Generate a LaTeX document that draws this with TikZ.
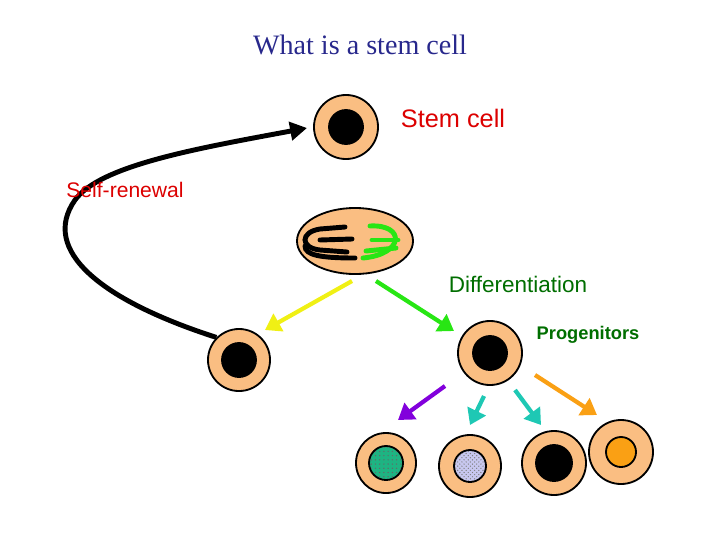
\documentclass[tikz,border=0pt]{standalone}
\usepackage{fontspec}
\setmainfont{Liberation Serif}
\newfontfamily\labelfont{Liberation Sans}
\usetikzlibrary{patterns,arrows.meta,shapes.geometric}
\definecolor{skin}{RGB}{250,190,130}
\definecolor{titleblue}{RGB}{40,40,140}
\definecolor{labelred}{RGB}{220,0,0}
\definecolor{labelgreen}{RGB}{0,110,0}
\definecolor{nucgreen}{RGB}{30,180,130}
\definecolor{nuclav}{RGB}{200,200,240}
\definecolor{nucorange}{RGB}{250,160,20}
\definecolor{armteal}{RGB}{30,200,180}
\definecolor{armpurple}{RGB}{130,0,220}
\definecolor{armorange}{RGB}{250,160,20}
\definecolor{armyellow}{RGB}{240,240,20}
\definecolor{armgreen}{RGB}{40,230,20}

\tikzset{
	cell/.style={circle, draw, line width=1.3pt, fill=skin},
	fat/.style={line width=3pt, -{Triangle[length=11pt,width=14pt]}},
	lbl/.style={font=\labelfont\fontsize{16}{18}\selectfont}
}

\begin{document}
\begin{tikzpicture}[x=0.025cm, y=-0.025cm]

	% ---- frame

	\useasboundingbox (0,0) rectangle (720,540);

	% ---- cells

	\node[cell, minimum size=1.6cm] (stem) at (346,127) {};
	\draw[line width=1.3pt, fill=black] (stem) circle (17);

	\node[draw, ellipse, line width=1.3pt, fill=skin, minimum width=2.9cm, minimum height=1.65cm] (div) at (355,241) {};

	\node[cell, minimum size=1.55cm] (left) at (239,360) {};
	\draw[line width=1.3pt, fill=black] (left) circle (17);

	\node[cell, minimum size=1.6cm] (prog) at (490,353) {};
	\draw[line width=1.3pt, fill=black] (prog) circle (17);

	\node[cell, minimum size=1.5cm] (c1) at (386,463) {};
	\draw[line width=1.3pt, fill=nucgreen] (c1) circle (17);
	\fill[pattern=dots, pattern color=black!60] (c1) circle (16);

	\node[cell, minimum size=1.55cm] (c2) at (470,466) {};
	\draw[line width=1.3pt, fill=nuclav] (c2) circle (16);
	\fill[pattern=crosshatch dots, pattern color=black!50] (c2) circle (15);

	\node[cell, minimum size=1.6cm] (c3) at (554,463) {};
	\draw[line width=1.3pt, fill=black] (c3) circle (18);

	\node[cell, minimum size=1.6cm] (c4) at (621,452) {};
	\draw[line width=1.3pt, fill=nucorange] (c4) circle (15);

	% ---- chromosomes

	\draw[line width=3.5pt, line cap=round] (345,227) -- (320,229) .. controls (300,232) and (300,248) .. (320,250) -- (347,252);
	\draw[line width=3.5pt, line cap=round] (352,239) -- (320,240);
	\draw[line width=3.5pt, line cap=round] (355,258) .. controls (320,258) and (305,255) .. (305,246);
	\draw[line width=3.5pt, line cap=round, armgreen] (370,226) .. controls (405,224) and (405,254) .. (363,258);
	\draw[line width=3.5pt, line cap=round, armgreen] (372,240) -- (398,240);
	\draw[line width=3.5pt, line cap=round, armgreen] (366,251) -- (396,248);

	% ---- arrows

	\coordinate (ysrc) at (352,281);
	\coordinate (ydst) at (265,330);
	\coordinate (gsrc) at (376,281);
	\coordinate (gdst) at (454,331);
	\draw[fat, armyellow] (ysrc) -- (ydst);
	\draw[fat, armgreen] (gsrc) -- (gdst);

	\coordinate (p1) at (445,386);
	\coordinate (p2) at (484,396);
	\coordinate (p3) at (515,390);
	\coordinate (p4) at (535,375);
	\draw[fat, armpurple] (p1) -- (398,420);
	\draw[fat, armteal] (p2) -- (470,425);
	\draw[fat, armteal] (p3) -- (541,425);
	\draw[fat, armorange] (p4) -- (597,415);

	% ---- self-renewal loop

	\coordinate (loopend) at (307,128);
	\draw[line width=3.5pt, -{Triangle[length=12pt,width=13pt]}] (left.north west) .. controls (100,300) and (40,250) .. (75,200) .. controls (100,165) and (200,148) .. (loopend);

	% ---- labels

	\node[titleblue, font=\fontsize{20}{24}\selectfont] (title) at (360,45) {What is a stem cell};
	\node[labelred, font=\labelfont\fontsize{18}{20}\selectfont] (lstem) at (453,118) {Stem cell};
	\node[lbl, labelred, font=\labelfont\fontsize{15}{18}\selectfont] (lself) at (125,190) {Self-renewal};
	\node[lbl, labelgreen] (ldiff) at (518,284) {Differentiation};
	\node[labelgreen, font=\labelfont\bfseries\fontsize{13}{15}\selectfont] (lprog) at (588,335) {Progenitors};

\end{tikzpicture}
\end{document}
